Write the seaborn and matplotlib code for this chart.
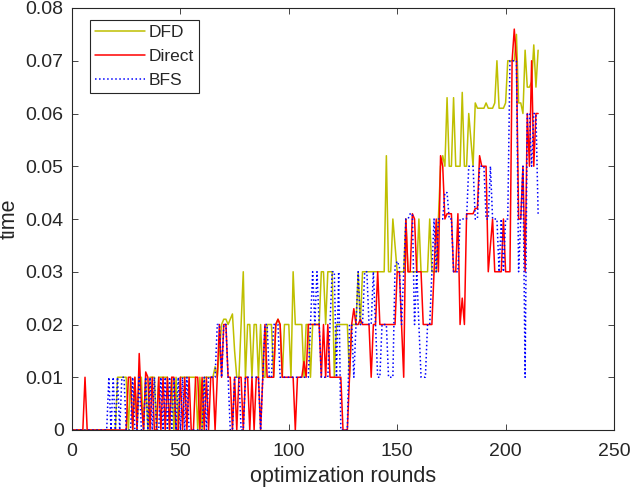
import numpy as np
import pandas as pd
import matplotlib
matplotlib.use("Agg")
import matplotlib.pyplot as plt
from matplotlib.ticker import FuncFormatter
import seaborn as sns

rounds = list(range(0, 216))

dfd = [
    0, 0, 0, 0, 0, 0, 0, 0, 0, 0,
    0, 0, 0, 0, 0, 0, 0, 0, 0, 0,
    0, .01, .01, .01, .01, .01, 0, .01, 0, .01,
    0, .01, .01, 0, .01, 0, .01, .01, .01, 0, .01,
    .01, .01, .01, .01, 0, .01, 0, .01, 0, .01,
    .01, .01, .01, .01, .01, .01, .01, 0, .01, 0,
    .01, .01, .01, .01, .01, .012, .01, .015, .02, .021,
    .021, .02, .021, .022, .015, .01, .01, .02, .03, .01, .02,
    .02, .01, .02, .02, .01, .02, .01, .01, .02, .02,
    .02, .01, .02, .021, .02, .01, .02, .02, .02, .01,
    .03, .02, .02, .02, .02, .01, .02, .02, .01, .02,
    .02, .02, .02, .03, .03, .02, .03, .03, .03, .01, .02,
    .02, .02, .02, .02, .02, .01, .02, .02, .02, .03,
    .02, .03, .03, .03, .03, .03, .03, .03, .03, .03,
    .03, .03, .052, .03, .03, .04, .035, .03, .03, .03,
    .03, .04, .03, .03, .03, .03, .03, .04, .03, .03, .03,
    .03, .04, .03, .03, .03, .04, .05, .052, .05, .063,
    .05, .05, .063, .05, .05, .05, .064, .05, .05, .06,
    .055, .05, .062, .061, .061, .061, .061, .062, .061, .061,
    .061, .062, .07, .061, .061, .061, .062, .07, .07, .07, .07,
    .075, .062, .062, .06, .072, .065, .065, .066, .073, .065, .072,
]

direct = [
    0, 0, 0, 0, 0, 0, .01, 0, 0, 0,
    0, 0, 0, 0, 0, 0, 0, 0, 0, 0,
    0, 0, 0, 0, 0, 0, .01, .01, 0, .01,
    0, .0145, .005, 0, .011, .01, 0, .01, 0, 0, .01,
    0, .01, 0, .01, 0, .01, .01, 0, 0, .01,
    0, .01, 0, .01, 0, 0, .01, .01, 0, .01,
    0, .01, 0, .01, .01, 0, .01, .02, .01, .02,
    .02, .01, .01, 0, .01, 0, .01, .01, 0, .01, .01,
    0, .01, 0, .01, .01, 0, .01, .02, .01, .01,
    .01, .01, .02, .021, .02, .01, .01, .01, .01, .01,
    .01, 0, .01, .01, .01, .013, .01, .02, .02, .02,
    .02, .02, .02, .01, .02, .01, .02, .01, .01, .01, .01,
    .01, .01, 0, 0, 0, .01, .02, .023, .02, .02,
    .021, .02, .02, .02, .02, .01, .02, .02, .03, .02,
    .02, .02, .02, .02, .02, .02, .02, .03, .03, .02,
    .01, .04, .03, .03, .041, .04, .03, .03, .03, .02, .02,
    .02, .02, .02, .03, .04, .03, .052, .05, .04, .041,
    .041, .041, .03, .03, .041, .02, .025, .02, .041, .041,
    .041, .041, .042, .042, .052, .05, .05, .05, .03, .035,
    .04, .03, .03, .03, .03, .04, .03, .03, .03, .07, .076,
    .07, .04, .04, .05, .03, .06, .05, .07, .05, .06, .06,
]

bfs = [
    0, 0, 0, 0, 0, 0, 0, 0, 0, 0,
    0, 0, 0, 0, 0, 0, 0, .01, 0, .01,
    0, .01, 0, .01, .01, 0, 0, 0, .01, 0,
    0, .01, 0, 0, .01, 0, .01, 0, .01, 0, 0,
    .01, 0, .01, 0, .01, 0, .01, 0, .01, 0,
    .01, 0, .01, 0, 0, 0, 0, 0, 0, 0,
    .01, 0, .01, .01, .01, .01, .02, .02, .01, .02,
    .02, .01, 0, 0, .01, .01, .01, 0, 0, .01, .01,
    .01, .01, .01, .01, .01, 0, .01, .02, .02, .01,
    .01, .02, .02, .02, .01, .01, .01, .01, .01, .01,
    .01, .01, .01, .01, .01, .01, .01, .01, .02, .03,
    .02, .03, .02, .01, .01, .01, .01, .02, .03, .03, .01,
    .03, 0, 0, 0, 0, .02, .02, .01, .02, .03,
    .02, .02, .03, .03, .02, .02, .03, .02, .01, .01,
    .02, .02, .02, .01, .01, .01, .031, .032, .031, .02,
    .03, .04, .04, .041, .041, .02, .03, .02, .01, .01, .01,
    .02, .02, .03, .04, .03, .04, .04, .04, .045, .045,
    .04, .04, .03, .03, .03, .04, .04, .04, .04, .05,
    .05, .05, .04, .04, .05, .05, .05, .04, .04, .05,
    .04, .04, .04, .03, .04, .03, .04, .04, .07, .07, .07,
    .07, .03, .04, .05, .01, .06, .06, .05, .06, .06, .041,
]

series_names = ["DFD", "Direct", "BFS"]
series_colors = ["#bfbf00", "#ff0000", "#0000ff"]
series_styles = ["-", "-", ":"]

sns.set_theme(style="ticks")
plt.rcParams["font.family"] = ["Liberation Sans", "DejaVu Sans"]

fig = plt.figure(figsize=(6.31, 4.93), dpi=100)
ax = fig.add_axes([72 / 631, 1 - 430 / 493, (614 - 72) / 631, (430 - 8) / 493])

for name, vals, col, ls in zip(series_names, [dfd, direct, bfs], series_colors, series_styles):
    df = pd.DataFrame({"round": rounds, "time": vals})
    sns.lineplot(data=df, x="round", y="time", ax=ax, color=col, linestyle=ls,
                 linewidth=1.1, label=name, estimator=None)

ax.set_xlim(0, 250)
ax.set_ylim(0, 0.08)
ax.set_xticks([0, 50, 100, 150, 200, 250])
ax.set_yticks([0, 0.01, 0.02, 0.03, 0.04, 0.05, 0.06, 0.07, 0.08])
ax.yaxis.set_major_formatter(FuncFormatter(lambda v, p: "%g" % round(v, 4)))
ax.tick_params(direction="in", top=True, right=True, length=4, width=0.6,
               labelsize=14, colors="#262626")
ax.tick_params(axis="x", pad=9)
ax.tick_params(axis="y", pad=6)
for s in ax.spines.values():
    s.set_linewidth(0.8)
    s.set_color("#262626")
ax.set_xlabel("optimization rounds", fontsize=15.5, color="#262626", labelpad=5)
ax.set_ylabel("time", fontsize=15.5, color="#262626", labelpad=4)

leg = ax.legend(loc="upper left", bbox_to_anchor=(0.033, 0.972), borderaxespad=0,
                fontsize=12.5, frameon=True, fancybox=False, framealpha=1,
                edgecolor="#262626", handlelength=2.9, handletextpad=0.2,
                borderpad=0.3, labelspacing=0.5)
leg.get_frame().set_linewidth(0.8)

fig.savefig("out.png", dpi=100)
